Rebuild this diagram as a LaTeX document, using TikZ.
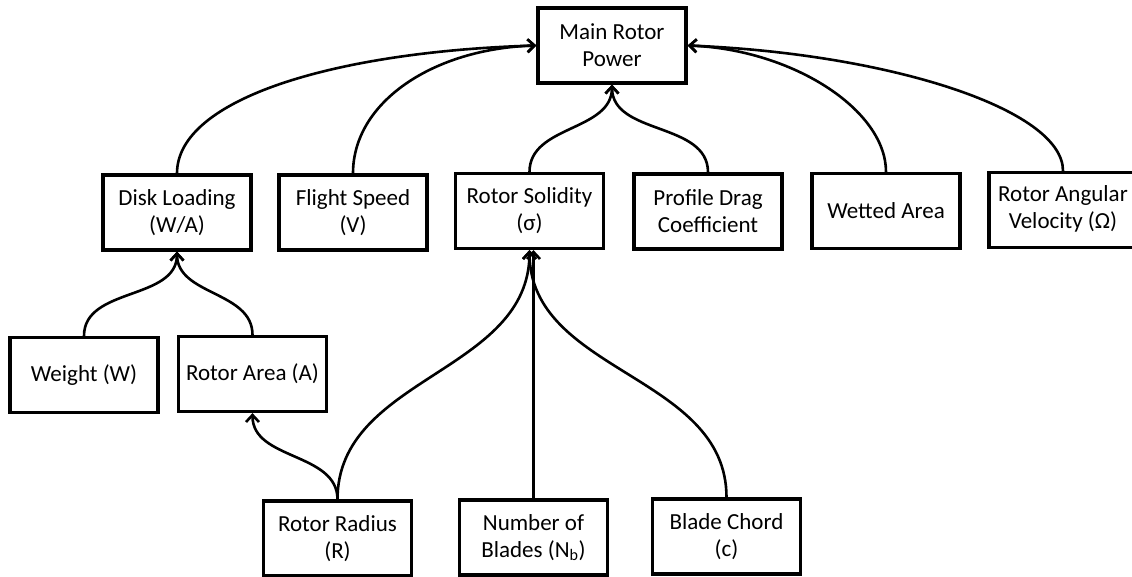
\documentclass[tikz,border=0pt]{standalone}
\usepackage{fontspec}
\setmainfont{Carlito}
\usetikzlibrary{arrows.meta}
\tikzset{
  box/.style={draw, line width=3.2pt, minimum width=148pt, minimum height=75pt,
    align=center, inner sep=0pt, font=\fontsize{23}{27}\selectfont},
  conn/.style={line width=2.6pt, -{Straight Barb[length=7pt,width=13pt]}}
}
\begin{document}
\begin{tikzpicture}[x=1pt,y=-1pt]
\useasboundingbox (0,0) rectangle (1132,577);
% top
\node[box] (main) at (612,45.5) {Main Rotor\\Power};
% second row
\node[box] (disk) at (177,212.5) {Disk Loading\\(W/A)};
\node[box] (flight) at (353,212.5) {Flight Speed\\(V)};
\node[box] (solid) at (529.5,211) {Rotor Solidity\\(σ)};
\node[box] (profile) at (708,211.5) {Profile Drag\\Coefficient};
\node[box] (wetted) at (886,211) {Wetted Area};
\node[box, minimum width=170pt, align=left] (angular) at (1074,210)
  {\begin{tabular}{@{}c@{}}Rotor Angular\\Velocity (Ω)\end{tabular}\hspace*{22pt}};
% third row
\node[box] (weight) at (84,375) {Weight (W)};
\node[box] (area) at (252.5,374) {Rotor Area (A)};
% bottom row
\node[box] (radius) at (337.5,538.5) {Rotor Radius\\(R)};
\node[box] (blades) at (533.5,537.5) {Number of\\Blades (N\textsubscript{b})};
\node[box] (chord) at (726.5,536.5) {Blade Chord\\(c)};
% connectors to main
\draw[conn] (disk.north) .. controls +(0,-75) and +(-200,6) .. (main.west);
\draw[conn] (flight.north) .. controls +(0,-72) and +(-102,3) .. (main.west);
\draw[conn] (wetted.north) .. controls +(0,-62) and +(105,4) .. (main.east);
\draw[conn] ([xshift=-11pt]angular.north) .. controls +(0,-62) and +(200,8) .. (main.east);
\draw[conn] (solid.north) to[out=90,in=-90] (main.south);
\draw[conn] (profile.north) to[out=90,in=-90] (main.south);
% to disk loading
\draw[conn] (weight.north) to[out=90,in=-90] (disk.south);
\draw[conn] (area.north) to[out=90,in=-90] (disk.south);
% to rotor solidity
\draw[conn] (radius.north) to[out=90,in=-90] (solid.south);
\draw[conn] (blades.north) -- (blades.north |- solid.south);
\draw[conn] (chord.north) to[out=90,in=-90] (solid.south);
% to rotor area
\draw[conn] (radius.north) to[out=90,in=-90] (area.south);
\end{tikzpicture}
\end{document}
